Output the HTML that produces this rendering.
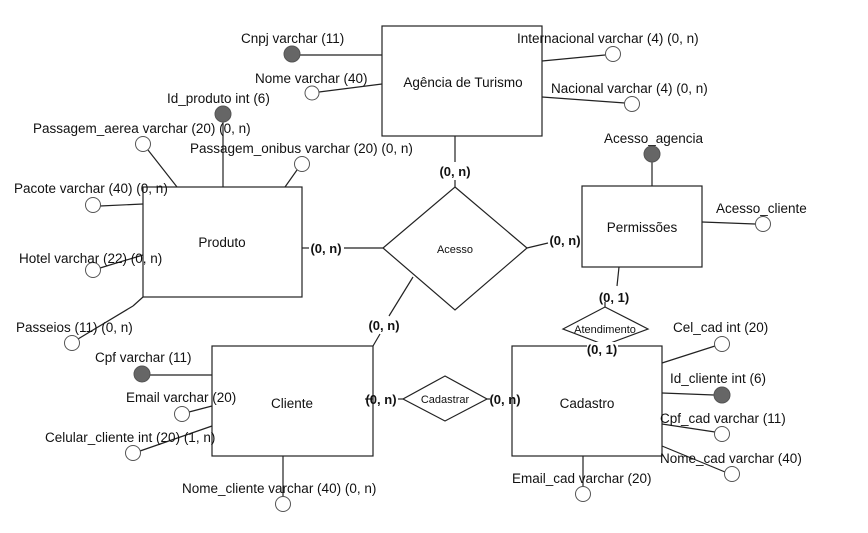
<!DOCTYPE html>
<html><head><meta charset="utf-8"><style>
html,body{margin:0;padding:0;background:#fff}
svg{display:block}
text{font-family:"Liberation Sans",sans-serif;fill:#111}
.a{font-size:13.5px}
.e{font-size:13.5px}
.b{font-size:13px;font-weight:bold}
</style></head><body>
<svg width="868" height="533" viewBox="0 0 868 533" xmlns="http://www.w3.org/2000/svg">
<g stroke="#222" stroke-width="1.2" fill="none">
<rect x="382" y="26" width="160" height="110" fill="#fff"/>
<rect x="143" y="187" width="159" height="110" fill="#fff"/>
<rect x="582" y="186" width="120" height="81" fill="#fff"/>
<rect x="212" y="346" width="161" height="110" fill="#fff"/>
<rect x="512" y="346" width="150" height="110" fill="#fff"/>
<polygon points="455,187 527,248 455,310 383,248" fill="#fff"/>
<polygon points="445,376 487,399 445,421 403,399" fill="#fff"/>
<polygon points="605,307 648,329 605,345 563,329" fill="#fff"/>
<line x1="455" y1="136" x2="455" y2="162"/>
<line x1="455" y1="180" x2="455" y2="187"/>
<line x1="302" y1="248" x2="309" y2="248"/>
<line x1="344" y1="248" x2="383" y2="248"/>
<line x1="527" y1="248" x2="548" y2="243"/>
<line x1="413" y1="277" x2="389" y2="316"/>
<line x1="380" y1="334" x2="373" y2="346"/>
<line x1="373" y1="399" x2="365" y2="399"/>
<line x1="398" y1="399" x2="403" y2="399"/>
<line x1="487" y1="399" x2="490" y2="399"/>
<line x1="619" y1="267" x2="617" y2="286"/>
<line x1="605" y1="302" x2="605" y2="307"/>
<line x1="300" y1="55" x2="382" y2="55"/>
<line x1="319" y1="92" x2="382" y2="84"/>
<line x1="542" y1="61" x2="605" y2="55"/>
<line x1="542" y1="97" x2="625" y2="103"/>
<line x1="223" y1="122" x2="223" y2="187"/>
<line x1="148" y1="150" x2="177" y2="187"/>
<line x1="297" y1="170" x2="285" y2="187"/>
<line x1="100" y1="206" x2="143" y2="204"/>
<line x1="100" y1="268" x2="143" y2="255"/>
<line x1="78" y1="339" x2="133" y2="306"/>
<line x1="133" y1="306" x2="143" y2="297"/>
<line x1="150" y1="375" x2="212" y2="375"/>
<line x1="189" y1="412" x2="212" y2="406"/>
<line x1="140" y1="451" x2="212" y2="426"/>
<line x1="283" y1="456" x2="283" y2="497"/>
<line x1="652" y1="162" x2="652" y2="186"/>
<line x1="702" y1="222" x2="755" y2="224"/>
<line x1="662" y1="363" x2="715" y2="346"/>
<line x1="662" y1="393" x2="714" y2="395"/>
<line x1="662" y1="424" x2="715" y2="432"/>
<line x1="662" y1="446" x2="725" y2="472"/>
<line x1="583" y1="456" x2="583" y2="487"/>
</g>
<rect x="587" y="342" width="31" height="10" fill="#fff"/>
<g stroke="#555" stroke-width="1">
<circle cx="292" cy="54" r="8" fill="#666"/>
<circle cx="223" cy="114" r="8" fill="#666"/>
<circle cx="142" cy="374" r="8" fill="#666"/>
<circle cx="652" cy="154" r="8" fill="#666"/>
<circle cx="722" cy="395" r="8" fill="#666"/>
</g>
<g stroke="#555" stroke-width="1" fill="#fff">
<circle cx="312" cy="93" r="7"/>
<circle cx="613" cy="54" r="7.5"/>
<circle cx="632" cy="104" r="7.5"/>
<circle cx="143" cy="144" r="7.5"/>
<circle cx="302" cy="164" r="7.5"/>
<circle cx="93" cy="205" r="7.5"/>
<circle cx="93" cy="270" r="7.5"/>
<circle cx="72" cy="343" r="7.5"/>
<circle cx="182" cy="414" r="7.5"/>
<circle cx="133" cy="453" r="7.5"/>
<circle cx="283" cy="504" r="7.5"/>
<circle cx="763" cy="224" r="7.5"/>
<circle cx="722" cy="344" r="7.5"/>
<circle cx="722" cy="434" r="7.5"/>
<circle cx="732" cy="474" r="7.5"/>
<circle cx="583" cy="494" r="7.5"/>
</g>
<text class="e" x="463" y="87" text-anchor="middle">Agência de Turismo</text>
<text class="e" x="222" y="247" text-anchor="middle">Produto</text>
<text class="e" x="642" y="232" text-anchor="middle">Permissões</text>
<text class="e" x="292" y="408" text-anchor="middle">Cliente</text>
<text class="e" x="587" y="408" text-anchor="middle">Cadastro</text>
<text x="455" y="253" text-anchor="middle" style="font-size:11px">Acesso</text>
<text x="445" y="403" text-anchor="middle" style="font-size:11px">Cadastrar</text>
<text x="605" y="333" text-anchor="middle" style="font-size:11px">Atendimento</text>
<text class="b" x="455" y="176" text-anchor="middle">(0, n)</text>
<text class="b" x="326" y="253" text-anchor="middle">(0, n)</text>
<text class="b" x="565" y="245" text-anchor="middle">(0, n)</text>
<text class="b" x="384" y="330" text-anchor="middle">(0, n)</text>
<text class="b" x="381" y="404" text-anchor="middle">(0, n)</text>
<text class="b" x="505" y="404" text-anchor="middle">(0, n)</text>
<text class="b" x="614" y="302" text-anchor="middle">(0, 1)</text>
<text class="b" x="602" y="354" text-anchor="middle">(0, 1)</text>
<text class="a" x="241" y="43">Cnpj varchar (11)</text>
<text class="a" x="255" y="83">Nome varchar (40)</text>
<text class="a" x="517" y="43">Internacional varchar (4) (0, n)</text>
<text class="a" x="551" y="93">Nacional varchar (4) (0, n)</text>
<text class="a" x="167" y="103">Id_produto int (6)</text>
<text class="a" x="33" y="133">Passagem_aerea varchar (20) (0, n)</text>
<text class="a" x="190" y="153">Passagem_onibus varchar (20) (0, n)</text>
<text class="a" x="14" y="193">Pacote varchar (40) (0, n)</text>
<text class="a" x="19" y="263">Hotel varchar (22) (0, n)</text>
<text class="a" x="16" y="332">Passeios (11) (0, n)</text>
<text class="a" x="95" y="362">Cpf varchar (11)</text>
<text class="a" x="126" y="402">Email varchar (20)</text>
<text class="a" x="45" y="442">Celular_cliente int (20) (1, n)</text>
<text class="a" x="182" y="493">Nome_cliente varchar (40) (0, n)</text>
<text class="a" x="604" y="143">Acesso_agencia</text>
<text class="a" x="716" y="213">Acesso_cliente</text>
<text class="a" x="673" y="332">Cel_cad int (20)</text>
<text class="a" x="670" y="383">Id_cliente int (6)</text>
<text class="a" x="660" y="423">Cpf_cad varchar (11)</text>
<text class="a" x="660" y="463">Nome_cad varchar (40)</text>
<text class="a" x="512" y="483">Email_cad varchar (20)</text>
</svg>
</body></html>
